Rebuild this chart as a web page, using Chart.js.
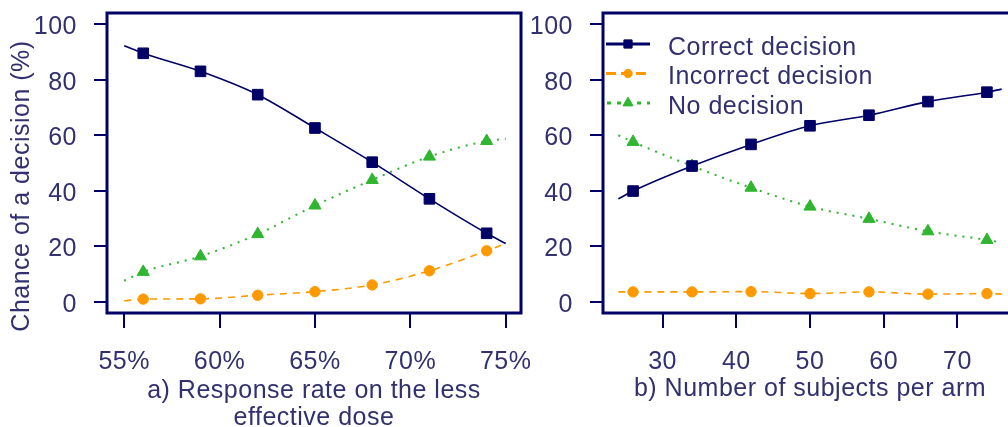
<!DOCTYPE html>
<html>
<head>
<meta charset="utf-8">
<script src="https://cdn.jsdelivr.net/npm/chart.js"></script>
<style>
  html, body { margin: 0; padding: 0; background: #fff; width: 1008px; height: 427px; overflow: hidden; }
  #wrap { position: relative; width: 1008px; height: 427px; overflow: hidden; }
  canvas { position: absolute; top: 0; }
  #doseChart { left: 0; }
  #sizeChart { left: 520px; }
</style>
</head>
<body>
<div id="wrap">
  <canvas id="doseChart" width="540" height="427"></canvas>
  <canvas id="sizeChart" width="510" height="427"></canvas>
</div>
<script>
// ---- Panel a: response rate on the less effective dose (%) ----
const doseRates = [56, 59, 62, 65, 68, 71, 74];
const doseRange = [55, 75];               // smoothed curves run across this span
const correctByDose   = [89.5, 83.0, 74.6, 62.6, 50.3, 37.1, 24.7];
const incorrectByDose = [1.0, 1.1, 2.4, 3.7, 6.1, 11.2, 18.4];
const noneByDose      = [10.8, 16.4, 24.4, 34.7, 43.9, 52.3, 57.9];
const correctDoseEnds   = [92.2, 21.0];
const incorrectDoseEnds = [0.4, 21.0];
const noneDoseEnds      = [7.6, 58.7];
const doseTicks = [55, 60, 65, 70, 75];

// ---- Panel b: number of subjects per arm ----
const armSizes = [26, 34, 42, 50, 58, 66, 74];
const sizeRange = [24, 76];
const correctBySize   = [39.9, 48.9, 56.7, 63.4, 67.2, 72.1, 75.5];
const incorrectBySize = [3.6, 3.6, 3.7, 3.0, 3.6, 2.8, 3.0];
const noneBySize      = [57.6, 48.9, 41.1, 34.3, 29.9, 25.4, 22.3];
const correctSizeEnds   = [37.1, 76.6];
const incorrectSizeEnds = [3.6, 2.8];
const noneSizeEnds      = [60.0, 21.4];
const sizeTicks = [30, 40, 50, 60, 70];

const chanceTicks = [0, 20, 40, 60, 80, 100];
const seriesNames = ['Correct decision', 'Incorrect decision', 'No decision'];

// ---- styling ----
const INK = '#000066';
const TEXT = '#33306f';
const FONT = '"Liberation Sans", Arial, Helvetica, sans-serif';
const FONT_SIZE = 25;
Chart.defaults.font.family = FONT;
Chart.defaults.font.size = FONT_SIZE;
Chart.defaults.color = TEXT;

const seriesStyle = [
  { color: '#000066', dash: [],     width: 1.6, pointStyle: 'rect',     radius: 7.5, keyRadius: 5.8, keyWidth: 3 },
  { color: '#ff9900', dash: [7, 6], width: 1.6, pointStyle: 'circle',   radius: 5.2, keyRadius: 4.2, keyWidth: 3 },
  { color: '#2fb52f', dash: [2, 6], width: 2,   pointStyle: 'triangle', radius: 7,   keyRadius: 5.8, keyWidth: 3 }
];

// curve = [start end] + marked points + [finish end]; ends carry no marker
function curve(xs, ys, range, ends) {
  const pts = xs.map((x, i) => ({ x: x, y: ys[i] }));
  return [{ x: range[0], y: ends[0] }].concat(pts, [{ x: range[1], y: ends[1] }]);
}

function makeDatasets(xs, range, seriesList) {
  return seriesList.map((s, i) => {
    const st = seriesStyle[i];
    const data = curve(xs, s.values, range, s.ends);
    return {
      label: seriesNames[i],
      data: data,
      borderColor: st.color,
      backgroundColor: st.color,
      borderWidth: st.width,
      borderDash: st.dash,
      borderCapStyle: 'butt',
      cubicInterpolationMode: 'monotone',
      fill: false,
      pointStyle: st.pointStyle,
      pointBackgroundColor: st.color,
      pointBorderColor: st.color,
      pointBorderWidth: 1,
      pointRadius: ctx => (ctx.dataIndex === 0 || ctx.dataIndex === data.length - 1) ? 0 : st.radius,
      keyStyle: st
    };
  });
}

// slightly open letter spacing for every label on the canvas
const spacingPlugin = {
  id: 'spacing',
  beforeUpdate(chart) { chart.ctx.letterSpacing = '0.5px'; },
  beforeDraw(chart) { chart.ctx.letterSpacing = '0.5px'; }
};

// box drawn around the plotting region
const framePlugin = {
  id: 'frame',
  afterDraw(chart) {
    const { ctx, chartArea: a } = chart;
    ctx.save();
    ctx.strokeStyle = INK;
    ctx.lineWidth = 3;
    ctx.strokeRect(a.left, a.top, a.right - a.left, a.bottom - a.top);
    ctx.restore();
  }
};

// vertical axis caption shared by both panels, placed at the far left
const chanceTitlePlugin = {
  id: 'chanceTitle',
  afterDraw(chart) {
    const { ctx, chartArea: a } = chart;
    ctx.save();
    ctx.translate(22, (a.top + a.bottom) / 2 + 23);
    ctx.rotate(-Math.PI / 2);
    ctx.font = FONT_SIZE + 'px ' + FONT;
    ctx.fillStyle = TEXT;
    ctx.textAlign = 'center';
    ctx.textBaseline = 'middle';
    ctx.fillText('Chance of a decision (%)', 0, 0);
    ctx.restore();
  }
};

// legend drawn inside the plot, top-left corner
const insetLegendPlugin = {
  id: 'insetLegend',
  afterDraw(chart) {
    const { ctx, chartArea: a } = chart;
    chart.data.datasets.forEach((ds, i) => {
      const st = ds.keyStyle;
      const y = a.top + 31 + i * 29.5;
      const x0 = a.left + 3, x1 = a.left + 47, xm = (x0 + x1) / 2;
      ctx.save();
      ctx.strokeStyle = ds.borderColor;
      ctx.lineWidth = st.keyWidth;
      ctx.setLineDash(i === 0 ? [] : (i === 1 ? [10, 5] : [4, 6]));
      ctx.lineDashOffset = i === 2 ? -1 : 0;
      ctx.beginPath();
      ctx.moveTo(x0, y);
      ctx.lineTo(x1, y);
      ctx.stroke();
      ctx.setLineDash([]);
      ctx.fillStyle = ds.pointBackgroundColor;
      ctx.strokeStyle = ds.pointBorderColor;
      ctx.lineWidth = 1;
      Chart.helpers.drawPoint(ctx, { pointStyle: ds.pointStyle, radius: st.keyRadius, borderWidth: 1, rotation: 0 }, xm, y);
      ctx.fillStyle = TEXT;
      ctx.font = FONT_SIZE + 'px ' + FONT;
      ctx.textAlign = 'left';
      ctx.textBaseline = 'middle';
      ctx.fillText(ds.label, a.left + 65, y + 4);
      ctx.restore();
    });
  }
};

function fixedTicks(values) {
  return scale => { scale.ticks = values.map(v => ({ value: v })); };
}

function buildOptions(cfg) {
  return {
    responsive: false,
    animation: false,
    events: [],
    layout: { padding: { left: 0, top: 13, right: cfg.padRight, bottom: 0 } },
    plugins: { legend: { display: false }, tooltip: { enabled: false } },
    scales: {
      x: {
        type: 'linear',
        min: cfg.xMin,
        max: cfg.xMax,
        afterBuildTicks: fixedTicks(cfg.xTicks),
        afterFit: s => { s.height = 427 - 313; s.paddingLeft = 0; s.paddingRight = 0; },
        border: { display: false },
        grid: { display: true, drawOnChartArea: false, drawTicks: true, tickLength: 15, color: INK, lineWidth: 2 },
        ticks: { padding: 19, maxRotation: 0, autoSkip: false, color: TEXT, callback: cfg.xFormat },
        title: {
          display: true,
          text: cfg.xTitle,
          color: TEXT,
          font: { size: FONT_SIZE, lineHeight: 1.1 },
          padding: { top: 0, bottom: cfg.titlePad }
        }
      },
      y: {
        type: 'linear',
        min: -4,
        max: 104,
        afterBuildTicks: fixedTicks(chanceTicks),
        afterFit: s => { s.width = cfg.yWidth; s.paddingTop = 0; s.paddingBottom = 0; },
        border: { display: false },
        grid: { display: true, drawOnChartArea: false, drawTicks: true, tickLength: 13, color: INK, lineWidth: 2 },
        ticks: { padding: 17, autoSkip: false, color: TEXT, labelOffset: 3 }
      }
    }
  };
}

new Chart(document.getElementById('doseChart'), {
  type: 'line',
  data: {
    datasets: makeDatasets(doseRates, doseRange, [
      { values: correctByDose, ends: correctDoseEnds },
      { values: incorrectByDose, ends: incorrectDoseEnds },
      { values: noneByDose, ends: noneDoseEnds }
    ])
  },
  options: buildOptions({
    xMin: 54.1, xMax: 75.8, xTicks: doseTicks, padRight: 19, yWidth: 107,
    xFormat: v => v + '%',
    xTitle: ['a) Response rate on the less', 'effective dose'],
    titlePad: -5
  }),
  plugins: [spacingPlugin, framePlugin, chanceTitlePlugin]
});

new Chart(document.getElementById('sizeChart'), {
  type: 'line',
  data: {
    datasets: makeDatasets(armSizes, sizeRange, [
      { values: correctBySize, ends: correctSizeEnds },
      { values: incorrectBySize, ends: incorrectSizeEnds },
      { values: noneBySize, ends: noneSizeEnds }
    ])
  },
  options: buildOptions({
    xMin: 21.92, xMax: 78.08, xTicks: sizeTicks, padRight: 13, yWidth: 83,
    xFormat: v => String(v),
    xTitle: 'b) Number of subjects per arm',
    titlePad: 24
  }),
  plugins: [spacingPlugin, framePlugin, insetLegendPlugin]
});
</script>
</body>
</html>
